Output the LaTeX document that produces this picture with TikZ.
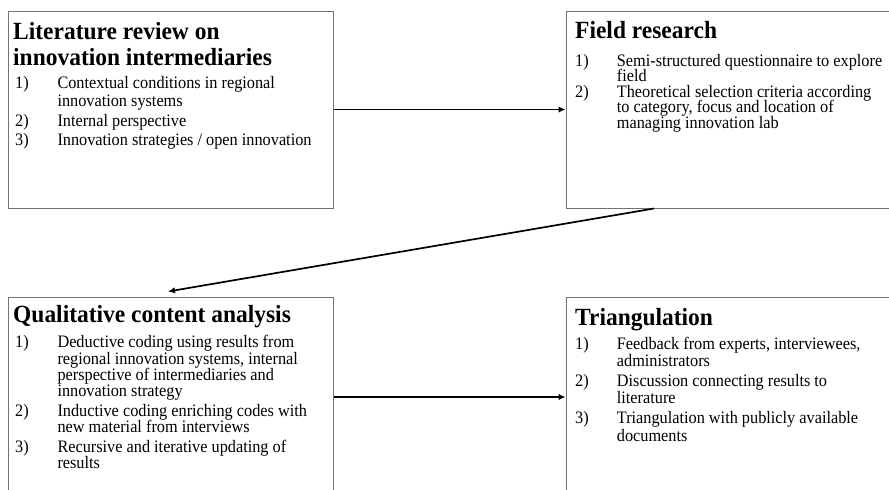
\documentclass[tikz,border=0pt]{standalone}
\usepackage{fontspec}
\setmainfont{Liberation Serif}
\newfontfamily\bodyfont{Liberation Serif}[FakeStretch=0.93]
\newfontfamily\headfont{Liberation Serif}[FakeStretch=0.95]
\usetikzlibrary{arrows.meta}
\begin{document}
\begin{tikzpicture}[x=1pt,y=-1pt,
  panel/.style={draw=black!55, line width=1pt, rectangle, inner sep=0pt, fill=none},
  ttl/.style={anchor=base west, inner sep=0pt, font=\headfont\fontsize{24.7}{26}\selectfont\bfseries},
  txt/.style={anchor=base west, inner sep=0pt, font=\bodyfont\fontsize{17.5}{19}\selectfont},
  conn/.style={draw=black, line width=1.7pt, -{Latex[length=7pt,width=6.5pt]}}]
\useasboundingbox (0,0) rectangle (889,490);
\clip (0,0) rectangle (889,490);
% boxes
\node[panel, minimum width=325pt, minimum height=197pt] (box1) at (170.5,109.5) {};
\node[panel, minimum width=330pt, minimum height=197pt] (box2) at (731,109.5) {};
\node[panel, minimum width=325pt, minimum height=200pt] (box3) at (170.5,397) {};
\node[panel, minimum width=330pt, minimum height=200pt] (box4) at (731,397) {};
% box 1
\node[ttl] (t1a) at (13,39.5) {Literature review on};
\node[ttl] (t1b) at (13,65) {innovation intermediaries};
\node[txt] (n11) at (15,88.5) {1)};
\node[txt] (l11) at (57.3,88.5) {Contextual conditions in regional};
\node[txt] (l12) at (57.3,106) {innovation systems};
\node[txt] (n12) at (15,126) {2)};
\node[txt] (l13) at (57.3,126) {Internal perspective};
\node[txt] (n13) at (15,145.5) {3)};
\node[txt] (l14) at (57.3,145.5) {Innovation strategies / open innovation};
% box 2
\node[ttl] (t2a) at (575,38.5) {Field research};
\node[txt] (n21) at (575,66.7) {1)};
\node[txt] (l21) at (616.7,66.7) {Semi-structured questionnaire to explore};
\node[txt] (l22) at (616.7,81.5) {field};
\node[txt] (n22) at (575,97.3) {2)};
\node[txt] (l23) at (616.7,97.3) {Theoretical selection criteria according};
\node[txt] (l24) at (616.7,112.7) {to category, focus and location of};
\node[txt] (l25) at (616.7,128.3) {managing innovation lab};
% box 3
\node[ttl] (t3a) at (13,322) {Qualitative content analysis};
\node[txt] (n31) at (15,347.7) {1)};
\node[txt] (l31) at (57.3,347.7) {Deductive coding using results from};
\node[txt] (l32) at (57.3,364) {regional innovation systems, internal};
\node[txt] (l33) at (57.3,380.3) {perspective of intermediaries and};
\node[txt] (l34) at (57.3,396.7) {innovation strategy};
\node[txt] (n32) at (15,416) {2)};
\node[txt] (l35) at (57.3,416) {Inductive coding enriching codes with};
\node[txt] (l36) at (57.3,432.7) {new material from interviews};
\node[txt] (n33) at (15,452.7) {3)};
\node[txt] (l37) at (57.3,452.7) {Recursive and iterative updating of};
\node[txt] (l38) at (57.3,468.5) {results};
% box 4
\node[ttl] (t4a) at (575,325) {Triangulation};
\node[txt] (n41) at (575,349.3) {1)};
\node[txt] (l41) at (616.7,349.3) {Feedback from experts, interviewees,};
\node[txt] (l42) at (616.7,366) {administrators};
\node[txt] (n42) at (575,386) {2)};
\node[txt] (l43) at (616.7,386) {Discussion connecting results to};
\node[txt] (l44) at (616.7,403.3) {literature};
\node[txt] (n43) at (575,423.3) {3)};
\node[txt] (l45) at (616.7,423.3) {Triangulation with publicly available};
\node[txt] (l46) at (616.7,441) {documents};
% connectors
\draw[conn] (box1.east) -- (box2.west);
\draw[conn] ([xshift=-77pt]box2.south) -- ([xshift=-2.5pt,yshift=5pt]box3.north);
\draw[conn] (box3.east) -- (box4.west);
\end{tikzpicture}
\end{document}
